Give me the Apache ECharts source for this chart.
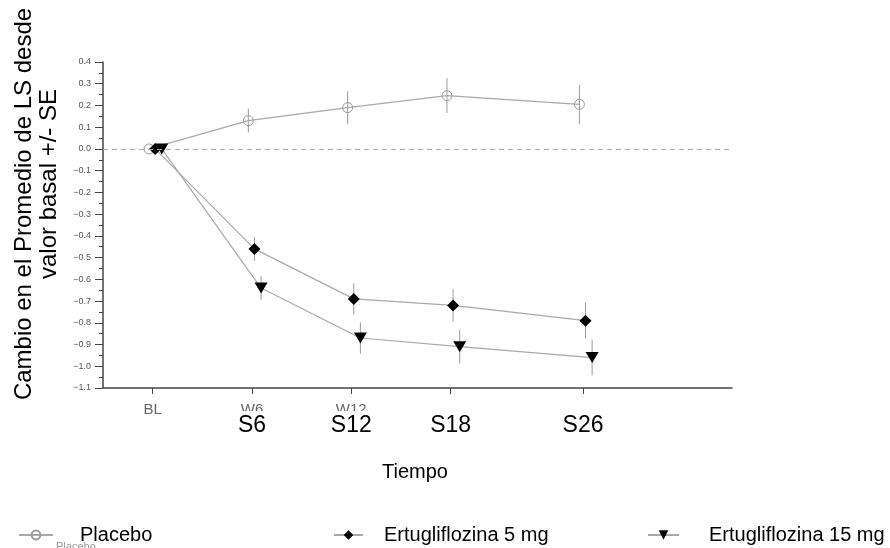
<!DOCTYPE html>
<html>
<head>
<meta charset="utf-8">
<script src="https://cdn.jsdelivr.net/npm/echarts@6/dist/echarts.min.js"></script>
<style>html,body{margin:0;padding:0;background:#fff}#c{width:890px;height:548px}</style>
</head>
<body>
<div id="c"></div>
<script>
// ---- data ----
const weeks = [0, 6, 12, 18, 26];
const grayTickWeeks = [0, 6, 12];
const grayTickLabels = ['BL', 'W6', 'W12'];
const sTickWeeks = [6, 12, 18, 26];
const sTickLabels = ['S6', 'S12', 'S18', 'S26'];
const placeboMean = [0.0, 0.13, 0.19, 0.245, 0.205];
const placeboSE = [0, 0.055, 0.075, 0.08, 0.09];
const ertu5Mean = [0.0, -0.46, -0.69, -0.72, -0.79];
const ertu5SE = [0, 0.055, 0.072, 0.075, 0.082];
const ertu15Mean = [0.0, -0.64, -0.87, -0.91, -0.96];
const ertu15SE = [0, 0.055, 0.072, 0.077, 0.082];
const seriesNames = ['Placebo', 'Ertugliflozina 5 mg', 'Ertugliflozina 15 mg'];
const yTitle1 = 'Cambio en el Promedio de LS desde';
const yTitle2 = 'valor basal +/- SE';
const xTitle = 'Tiempo';

// ---- helpers ----
const FONT = 'Liberation Sans, Arial, Helvetica, sans-serif';
const LINE = '#a9a9a9';
const ERR = '#9a9a9a';
const jitter = [-0.22, 0.15, 0.55];
const means = [placeboMean, ertu5Mean, ertu15Mean];
const ses = [placeboSE, ertu5SE, ertu15SE];

const grayMap = {}; grayTickWeeks.forEach((w, i) => grayMap[w] = grayTickLabels[i]);
const sMap = {}; sTickWeeks.forEach((w, i) => sMap[w] = sTickLabels[i]);

function pts(k) { return weeks.map((w, i) => [w + jitter[k], means[k][i]]); }
function errs(k) {
  const out = [];
  weeks.forEach((w, i) => { if (ses[k][i] > 0) out.push([w + jitter[k], means[k][i] - ses[k][i], means[k][i] + ses[k][i]]); });
  return out;
}
function errSeries(k) {
  return {
    type: 'custom', z: 1, silent: true,
    renderItem: function (params, api) {
      const a = api.coord([api.value(0), api.value(1)]);
      const b = api.coord([api.value(0), api.value(2)]);
      return { type: 'line', shape: { x1: a[0], y1: a[1], x2: b[0], y2: b[1] }, style: { stroke: ERR, lineWidth: 1 } };
    },
    data: errs(k)
  };
}

const chart = echarts.init(document.getElementById('c'), null, { renderer: 'canvas' });
chart.setOption({
  animation: false,
  backgroundColor: '#fff',
  textStyle: { fontFamily: FONT },
  grid: { left: 103, right: 158, top: 62, bottom: 160, containLabel: false },
  xAxis: [{
    type: 'value', min: -3, max: 35,
    axisLine: { show: true, onZero: false, lineStyle: { color: '#444', width: 1.5 } },
    axisTick: { show: true, customValues: weeks, length: 6, lineStyle: { color: '#444', width: 1 } },
    axisLabel: {
      show: true, customValues: grayTickWeeks, margin: 14,
      formatter: v => grayMap[v] || '', fontSize: 15, color: '#666', fontFamily: FONT
    },
    splitLine: { show: false }
  }, {
    type: 'value', min: -3, max: 35, position: 'bottom', z: 5,
    axisLine: { show: false, onZero: false }, axisTick: { show: false },
    axisLabel: {
      show: true, customValues: sTickWeeks, margin: 23,
      formatter: v => sMap[v] || '', fontSize: 23, color: '#000', fontFamily: FONT,
      backgroundColor: '#fff', padding: [3, 3, 0, 3]
    },
    splitLine: { show: false }
  }],
  yAxis: {
    type: 'value', min: -1.1, max: 0.4, interval: 0.1,
    axisLine: { show: true, onZero: false, lineStyle: { color: '#444', width: 1.5 } },
    axisTick: { show: true, length: 8, lineStyle: { color: '#444' } },
    minorTick: { show: true, splitNumber: 2, length: 4, lineStyle: { color: '#444' } },
    axisLabel: {
      margin: 12, fontSize: 9, color: '#555', fontFamily: FONT,
      formatter: v => (v < -1e-9 ? '\u2212' : '') + Math.abs(v).toFixed(1)
    },
    splitLine: { show: false }
  },
  legend: [
    { data: [seriesNames[0]], left: 13, top: 520, itemWidth: 34, itemHeight: 11,
      textStyle: { fontSize: 20, color: '#000', fontFamily: FONT, padding: [0, 0, 0, 22] } },
    { data: [seriesNames[1]], left: 328, top: 520, itemWidth: 29, itemHeight: 12,
      textStyle: { fontSize: 20, color: '#000', fontFamily: FONT, padding: [0, 0, 0, 16] } },
    { data: [seriesNames[2]], left: 642, top: 520, itemWidth: 31, itemHeight: 12,
      textStyle: { fontSize: 20, color: '#000', fontFamily: FONT, padding: [0, 0, 0, 25] } }
  ],
  graphic: [
    { type: 'text', x: 24, y: 204, rotation: Math.PI / 2,
      style: { text: yTitle1, fontSize: 24, fill: '#000', fontFamily: FONT, align: 'center', verticalAlign: 'middle' } },
    { type: 'text', x: 49, y: 184, rotation: Math.PI / 2,
      style: { text: yTitle2, fontSize: 24, fill: '#000', fontFamily: FONT, align: 'center', verticalAlign: 'middle' } },
    { type: 'text', x: 415, y: 472,
      style: { text: xTitle, fontSize: 20, fill: '#000', fontFamily: FONT, align: 'center', verticalAlign: 'middle' } },
    { type: 'text', x: 56, y: 541,
      style: { text: seriesNames[0], fontSize: 11, fill: '#999', fontFamily: FONT, align: 'left', verticalAlign: 'top' } }
  ],
  series: [
    errSeries(0), errSeries(1), errSeries(2),
    {
      name: seriesNames[0], type: 'line', z: 3, data: pts(0),
      symbol: 'circle', symbolSize: 10, showSymbol: true,
      lineStyle: { color: LINE, width: 1.2 },
      itemStyle: { color: 'rgba(255,255,255,0)', borderColor: '#999', borderWidth: 1 },
      markLine: {
        silent: true, symbol: 'none', label: { show: false },
        lineStyle: { color: '#aaa', type: [5, 4], width: 1 },
        data: [{ yAxis: 0 }]
      }
    },
    {
      name: seriesNames[1], type: 'line', z: 3, data: pts(1),
      symbol: 'diamond', symbolSize: 12,
      lineStyle: { color: LINE, width: 1.2 },
      itemStyle: { color: '#000' }
    },
    {
      name: seriesNames[2], type: 'line', z: 3, data: pts(2),
      symbol: 'triangle', symbolRotate: 180, symbolSize: [13, 11],
      lineStyle: { color: LINE, width: 1.2 },
      itemStyle: { color: '#000' }
    }
  ]
});
</script>
</body>
</html>
